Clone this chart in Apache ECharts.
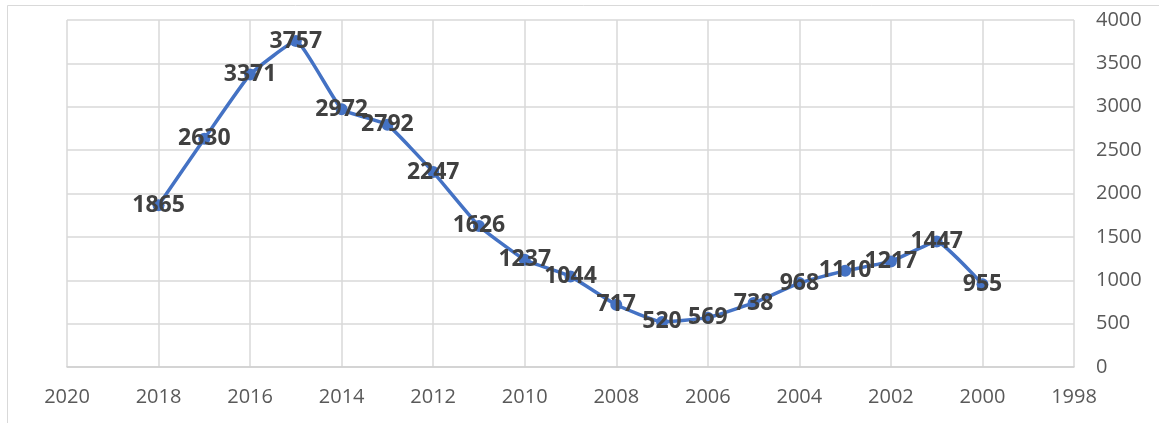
<!DOCTYPE html>
<html>
<head>
<meta charset="utf-8">
<script src="https://cdn.jsdelivr.net/npm/echarts@6/dist/echarts.min.js"></script>
<style>
  html, body { margin: 0; padding: 0; background: #ffffff; }
  #chart { width: 1159px; height: 423px; }
</style>
</head>
<body>
<div id="chart"></div>
<script>
// Yearly counts, 2018 back to 2000
const years = [2018, 2017, 2016, 2015, 2014, 2013, 2012, 2011, 2010, 2009,
               2008, 2007, 2006, 2005, 2004, 2003, 2002, 2001, 2000];
const counts = [1865, 2630, 3371, 3757, 2972, 2792, 2247, 1626, 1237, 1044,
                717, 520, 569, 738, 968, 1110, 1217, 1447, 955];

const points = years.map((y, i) => [y, counts[i]]);

const chart = echarts.init(document.getElementById('chart'));
chart.setOption({
  animation: false,
  backgroundColor: '#ffffff',
  graphic: [{
    type: 'rect',
    shape: { x: 7.5, y: 5.5, width: 1170, height: 440 },
    style: { fill: 'none', stroke: '#d9d9d9', lineWidth: 1 },
    silent: true
  }],
  grid: { left: 67, right: 85, top: 20, bottom: 56 },
  xAxis: {
    type: 'value',
    inverse: true,
    min: 1998,
    max: 2020,
    interval: 2,
    axisLine: { show: true, lineStyle: { color: '#d0d0d0', width: 1.5 } },
    axisTick: { show: false },
    splitLine: { show: true, lineStyle: { color: '#d9d9d9', width: 1.5 } },
    axisLabel: {
      color: '#595959',
      fontFamily: 'Open Sans',
      fontSize: 20,
      margin: 20,
      formatter: v => String(v)
    }
  },
  yAxis: {
    type: 'value',
    position: 'right',
    min: 0,
    max: 4000,
    interval: 500,
    axisLine: { show: false },
    axisTick: { show: false },
    splitLine: { show: true, lineStyle: { color: '#d9d9d9', width: 1.5 } },
    axisLabel: {
      color: '#595959',
      fontFamily: 'Open Sans',
      fontSize: 20,
      margin: 22,
      formatter: v => String(v)
    }
  },
  series: [{
    type: 'line',
    data: points,
    smooth: 0.12,
    symbol: 'circle',
    symbolSize: 12,
    lineStyle: { color: '#4472c4', width: 3.5 },
    itemStyle: { color: '#4472c4' },
    label: {
      show: true,
      position: 'inside',
      color: '#404040',
      fontFamily: 'Open Sans',
      fontWeight: 'bold',
      fontSize: 23,
      formatter: p => String(p.value[1])
    }
  }]
});
</script>
</body>
</html>
